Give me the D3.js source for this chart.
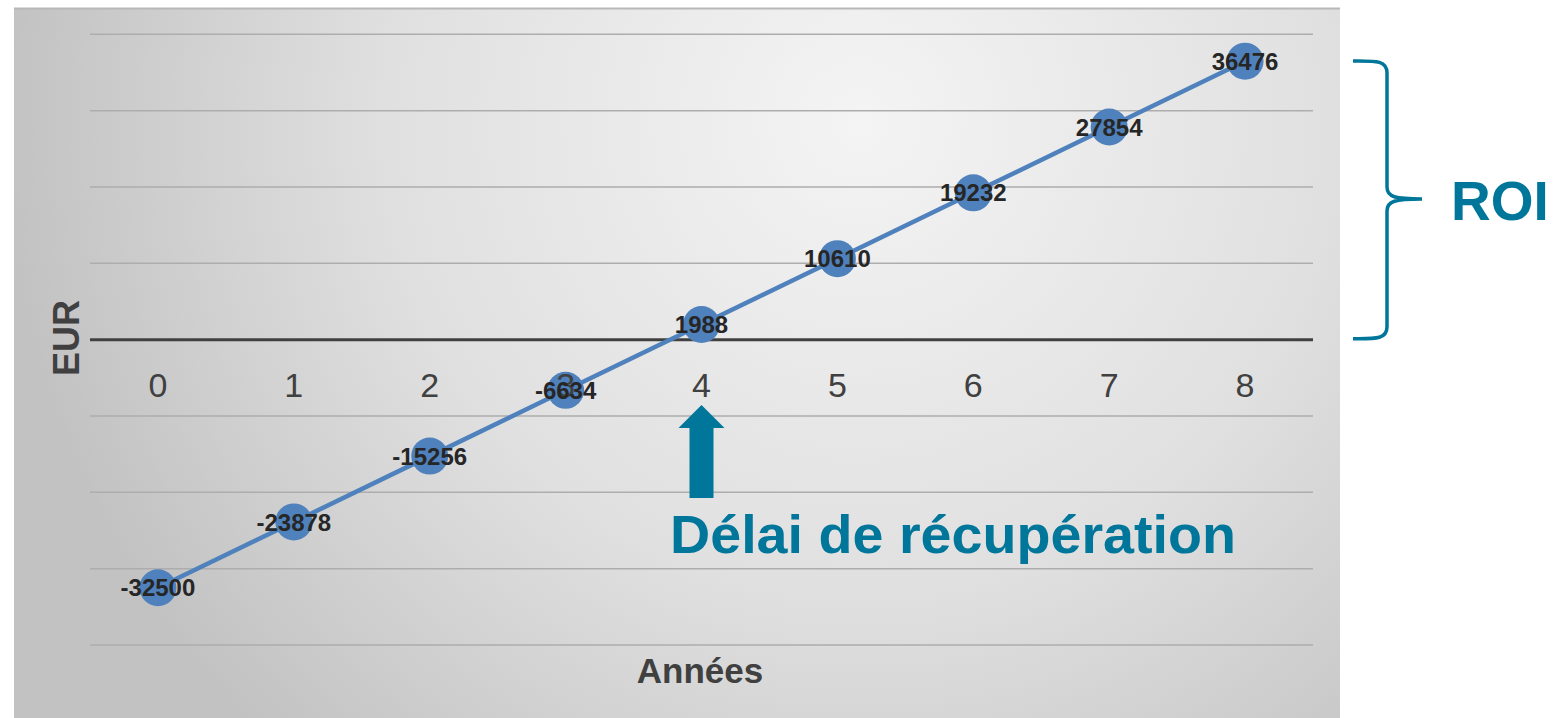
<!DOCTYPE html>
<html>
<head>
<meta charset="utf-8">
<script src="https://cdn.jsdelivr.net/npm/d3@7"></script>
<style>
  body { margin: 0; background: #fff; }
  svg { display: block; font-family: "Liberation Sans", Arial, sans-serif; }
</style>
</head>
<body>
<script>
// data
var years = ["0", "1", "2", "3", "4", "5", "6", "7", "8"];
var cashflow = [-32500, -23878, -15256, -6634, 1988, 10610, 19232, 27854, 36476];
var yTicks = [-40000, -30000, -20000, -10000, 0, 10000, 20000, 30000, 40000];
var paybackYear = "4";

var width = 1560, height = 718;
var teal = "#00769a", blue = "#4f81bd";

var svg = d3.select("body").append("svg")
    .attr("width", width)
    .attr("height", height);

var defs = svg.append("defs");
var grad = defs.append("radialGradient")
    .attr("id", "bg")
    .attr("gradientUnits", "userSpaceOnUse")
    .attr("cx", 860).attr("cy", 120)
    .attr("r", 860);
grad.append("stop").attr("offset", "0%").attr("stop-color", "#f4f4f4");
grad.append("stop").attr("offset", "55%").attr("stop-color", "#e0e0e0");
grad.append("stop").attr("offset", "100%").attr("stop-color", "#c2c2c2");

// chart area
svg.append("rect")
    .attr("x", 14).attr("y", 8)
    .attr("width", 1326).attr("height", 712)
    .attr("fill", "url(#bg)");
svg.append("line")
    .attr("x1", 14).attr("x2", 1340)
    .attr("y1", 8.5).attr("y2", 8.5)
    .attr("stroke", "#b8b8b8").attr("stroke-width", 2);

var x = d3.scalePoint()
    .domain(years)
    .range([90, 1313])
    .padding(0.5);

var y = d3.scaleLinear()
    .domain([-40000, 40000])
    .range([645, 34.3]);

// gridlines
svg.append("g")
    .selectAll("line")
    .data(yTicks.filter(function(d){ return d !== 0; }))
    .enter().append("line")
    .attr("x1", 90).attr("x2", 1313)
    .attr("y1", function(d){ return y(d); })
    .attr("y2", function(d){ return y(d); })
    .attr("stroke", "#adadad")
    .attr("stroke-width", 1.5);

// zero axis
svg.append("line")
    .attr("x1", 90).attr("x2", 1313)
    .attr("y1", y(0)).attr("y2", y(0))
    .attr("stroke", "#404040")
    .attr("stroke-width", 3);

// series line
var line = d3.line()
    .x(function(d, i){ return x(years[i]); })
    .y(function(d){ return y(d); });

svg.append("path")
    .datum(cashflow)
    .attr("d", line)
    .attr("fill", "none")
    .attr("stroke", blue)
    .attr("stroke-width", 4.5);

svg.append("g")
    .selectAll("circle")
    .data(cashflow)
    .enter().append("circle")
    .attr("cx", function(d, i){ return x(years[i]); })
    .attr("cy", function(d){ return y(d); })
    .attr("r", 18.5)
    .attr("fill", blue);

// category labels next to the zero axis
svg.append("g")
    .selectAll("text")
    .data(years)
    .enter().append("text")
    .attr("x", function(d){ return x(d); })
    .attr("y", y(0) + 57)
    .attr("text-anchor", "middle")
    .attr("font-size", 34)
    .attr("fill", "#404040")
    .text(function(d){ return d; });

// data labels
svg.append("g")
    .selectAll("text")
    .data(cashflow)
    .enter().append("text")
    .attr("x", function(d, i){ return x(years[i]); })
    .attr("y", function(d){ return y(d); })
    .attr("dy", "0.36em")
    .attr("text-anchor", "middle")
    .attr("font-size", 24)
    .attr("font-weight", "bold")
    .attr("fill", "#262626")
    .text(function(d){ return d; });

// axis titles
svg.append("text")
    .attr("transform", "translate(79,338) rotate(-90)")
    .attr("text-anchor", "middle")
    .attr("font-size", 36)
    .attr("font-weight", "bold")
    .attr("fill", "#404040")
    .text("EUR");

svg.append("text")
    .attr("x", 700)
    .attr("y", 683)
    .attr("text-anchor", "middle")
    .attr("font-size", 35)
    .attr("font-weight", "bold")
    .attr("fill", "#404040")
    .text("Années");

// payback arrow
var ax = x(paybackYear);
svg.append("path")
    .attr("d", d3.line()([
        [ax, 405], [ax + 23, 428], [ax + 12, 428], [ax + 12, 498],
        [ax - 12, 498], [ax - 12, 428], [ax - 23, 428]
    ]) + "Z")
    .attr("fill", teal);

svg.append("text")
    .attr("x", 670)
    .attr("y", 553)
    .attr("font-size", 54)
    .attr("font-weight", "bold")
    .attr("fill", teal)
    .attr("textLength", 566)
    .attr("lengthAdjust", "spacingAndGlyphs")
    .text("Délai de récupération");

// ROI brace
var bTop = 61, bBot = y(0) - 1, bMid = 199;
var bx = 1387;
svg.append("path")
    .attr("d",
        "M1353," + bTop +
        " C1375," + bTop + " " + bx + "," + (bTop - 1) + " " + bx + "," + (bTop + 12) +
        " L" + bx + "," + (bMid - 12) +
        " C" + bx + "," + (bMid - 2) + " 1395," + bMid + " 1422," + bMid +
        " C1395," + bMid + " " + bx + "," + (bMid + 2) + " " + bx + "," + (bMid + 12) +
        " L" + bx + "," + (bBot - 12) +
        " C" + bx + "," + (bBot + 1) + " 1375," + bBot + " 1353," + bBot)
    .attr("fill", "none")
    .attr("stroke", teal)
    .attr("stroke-width", 3.5);

svg.append("text")
    .attr("x", 1451)
    .attr("y", 220)
    .attr("font-size", 55)
    .attr("font-weight", "bold")
    .attr("fill", teal)
    .text("ROI");
</script>
</body>
</html>
